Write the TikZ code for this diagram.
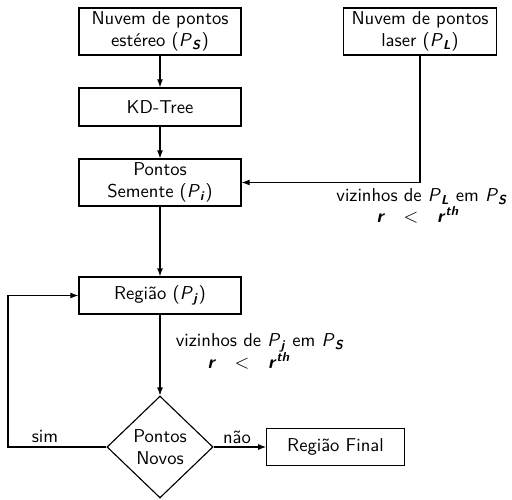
\documentclass[tikz,border=0pt]{standalone}
\usetikzlibrary{shapes.geometric,arrows.meta}
\renewcommand{\familydefault}{\sfdefault}
\newcommand{\PP}[1]{\textit{P}\textsubscript{\textbf{\textit{#1}}}}
\newcommand{\rth}{\textbf{\textit{r}}\quad$<$\quad\textbf{\textit{r}}\textsuperscript{\textbf{\textit{th}}}}
\begin{document}
\begin{tikzpicture}[x=0.575pt,y=-0.575pt,
  every node/.style={font=\fontsize{10.7}{12.6}\selectfont},
  box/.style={draw,line width=0.65pt,align=center,inner sep=0pt,minimum width=93.2pt},
  dec/.style={draw,line width=0.65pt,diamond,align=center,inner sep=0pt,minimum width=61pt,minimum height=58.6pt},
  lbl/.style={inner sep=0pt},
  arr/.style={line width=0.65pt,-{Latex[length=4.6pt,width=3.4pt]}}]
\useasboundingbox (0,0) rectangle (512,500);
\node[box,minimum height=27pt] (s) at (160,31.5) {Nuvem de pontos\\est\'ereo (\PP{S})};
\node[box,minimum width=88pt,minimum height=27pt] (las) at (420,31.5) {Nuvem de pontos\\laser (\PP{L})};
\node[box,minimum height=21.9pt] (kd) at (160,107) {KD-Tree};
\node[box,minimum height=27pt] (sem) at (160,182.5) {Pontos\\Semente (\PP{i})};
\node[box,minimum height=21.3pt] (reg) at (160,295.5) {Região (\PP{j})};
\node[dec] (dia) at (160,447) {Pontos\\Novos};
\node[box,minimum width=79pt,minimum height=21.3pt] (fin) at (335.5,447) {Região Final};
\coordinate (lp) at (8,447);
\draw[arr] (s) -- (kd);
\draw[arr] (kd) -- (sem);
\draw[arr] (las) |- (sem);
\draw[arr] (sem) -- (reg);
\draw[arr] (reg) -- (dia);
\draw[arr] (dia.west) -- (lp) |- (reg.west);
\draw[arr] (dia.east) -- (fin.west);
\node[lbl] (l1a) at (422,197) {vizinhos de \PP{L} em \PP{S}};
\node[lbl] (l1b) at (418,215) {\rth};
\node[lbl] (l2a) at (260,343) {vizinhos de \PP{j} em \PP{S}};
\node[lbl] (l2b) at (249,361) {\rth};
\node[lbl] (sim) at (45,437) {sim};
\node[lbl] (nao) at (237,437) {não};
\end{tikzpicture}
\end{document}
